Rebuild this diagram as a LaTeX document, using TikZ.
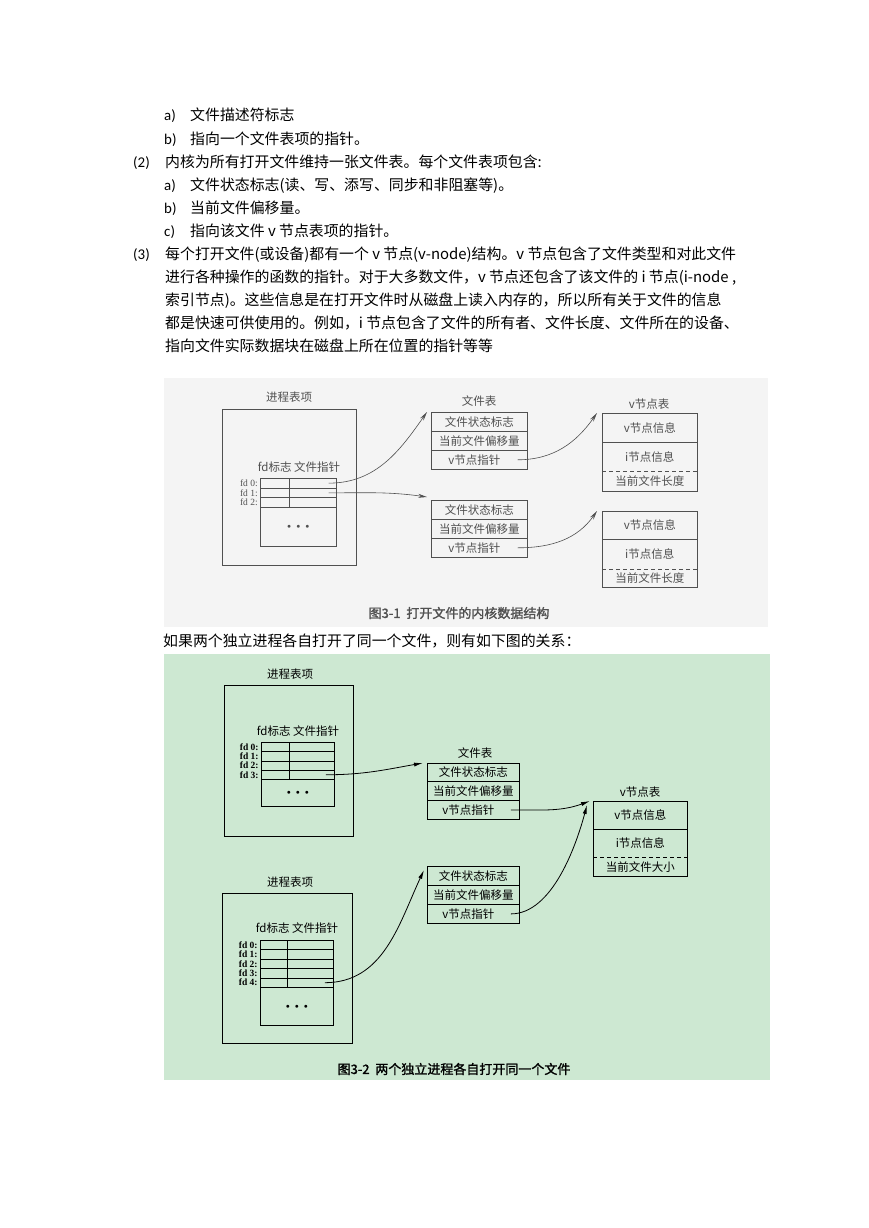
\documentclass[tikz,border=0pt]{standalone}
\usepackage{fontspec}
\setmainfont{Carlito}
\newfontfamily\cjk{Noto Sans CJK SC}
\newfontfamily\cjkbold[FakeBold=1.5]{Noto Sans CJK SC}
\newfontfamily\figserif{Liberation Serif}
\usepackage{tikz}
\usetikzlibrary{arrows.meta}

\definecolor{figgray}{RGB}{244,244,244}
\definecolor{figgreen}{RGB}{205,232,210}
\definecolor{scanink}{RGB}{80,80,80}

\begin{document}
\begin{tikzpicture}[x=1pt, y=-1pt,
  body/.style={anchor=base west, inner sep=0pt, font=\fontsize{14.9pt}{17pt}\selectfont\cjk},
  num/.style={anchor=base west, inner sep=0pt, font=\fontsize{14.9pt}{17pt}\selectfont},
  lbl/.style={inner sep=0pt, font=\fontsize{11.5pt}{13pt}\selectfont\cjk},
  figcap/.style={inner sep=0pt, font=\fontsize{13pt}{15pt}\selectfont\cjkbold},
  fdlbl/.style={anchor=east, inner sep=0pt, font=\fontsize{9.5pt}{9.5pt}\selectfont\figserif},
  fdlblb/.style={fdlbl, font=\fontsize{9.5pt}{9.5pt}\selectfont\figserif\bfseries},
  dots/.style={inner sep=0pt, font=\fontsize{7pt}{7pt}\selectfont},
  procbox/.style={draw, anchor=north west, inner sep=0pt},
  fdrow/.style={draw, anchor=north west, inner sep=0pt, minimum width=76pt, minimum height=9.7pt},
  ftrow/.style={lbl, draw, anchor=north west, minimum width=96pt, minimum height=19pt},
  vrow/.style={lbl, anchor=north west, minimum width=95pt},
  ptr/.style={-{Stealth[length=9pt, width=4pt]}},
  ptrb/.style={-{Latex[length=9pt, width=4pt]}}
]

% Page
\fill[white] (0,0) rectangle (869,1228);
\useasboundingbox (0,0) rectangle (869,1228);

% Text above the figures
\node[num] (n1a) at (164,121) {a)};
\node[body] (t1a) at (190,121) {文件描述符标志};
\node[num] (n1b) at (164,144) {b)};
\node[body] (t1b) at (190,144) {指向一个文件表项的指针。};
\node[num] (n2) at (133,167) {(2)};
\node[body] (t2) at (165,167) {内核为所有打开文件维持一张文件表。每个文件表项包含:};
\node[num] (n2a) at (164,190) {a)};
\node[body] (t2a) at (190,190) {文件状态标志(读、写、添写、同步和非阻塞等)。};
\node[num] (n2b) at (164,213) {b)};
\node[body] (t2b) at (190,213) {当前文件偏移量。};
\node[num] (n2c) at (164,236) {c)};
\node[body] (t2c) at (190,236) {指向该文件 v 节点表项的指针。};
\node[num] (n3) at (133,259) {(3)};
\node[body] (t3a) at (165,259) {每个打开文件(或设备)都有一个 v 节点(v-node)结构。v 节点包含了文件类型和对此文件};
\node[body] (t3b) at (165,282) {进行各种操作的函数的指针。对于大多数文件，v 节点还包含了该文件的 i 节点(i-node ,};
\node[body] (t3c) at (165,305) {索引节点)。这些信息是在打开文件时从磁盘上读入内存的，所以所有关于文件的信息};
\node[body] (t3d) at (165,328) {都是快速可供使用的。例如，i 节点包含了文件的所有者、文件长度、文件所在的设备、};
\node[body] (t3e) at (165,351) {指向文件实际数据块在磁盘上所在位置的指针等等};
\node[body] (t4) at (163,646) {如果两个独立进程各自打开了同一个文件，则有如下图的关系：};

% ---------------- Figure 3-1 ----------------
\fill[figgray] (164,378) rectangle (768,627);
\begin{scope}[color=scanink, line width=0.6pt]

% Process table entry
\node[lbl] (p1t) at (289,397) {进程表项};
\node[procbox, minimum width=134pt, minimum height=156pt] (p1) at (222,409) {};
\node[lbl] (p1h) at (299,467) {fd标志\ 文件指针};
\node[fdrow] (p1r0) at (260,478) {};
\node[fdrow] (p1r1) at (260,487.7) {};
\node[fdrow] (p1r2) at (260,497.4) {};
\node[fdrow, minimum height=39pt] (p1r3) at (260,507.1) {};
\draw ([xshift=29pt]p1r0.north west) -- ([xshift=29pt]p1r2.south west);
\node[fdlbl] (p1l0) at ([xshift=-2pt]p1r0.west) {fd 0:};
\node[fdlbl] (p1l1) at ([xshift=-2pt]p1r1.west) {fd 1:};
\node[fdlbl] (p1l2) at ([xshift=-2pt]p1r2.west) {fd 2:};
\node[dots] (p1d) at (p1r3.center) {$\bullet$\hspace{5pt}$\bullet$\hspace{5pt}$\bullet$};

% File tables
\node[lbl] (ft1t) at (479,401) {文件表};
\node[ftrow] (ft1s) at (431,412) {文件状态标志};
\node[ftrow] (ft1o) at (431,431) {当前文件偏移量};
\node[ftrow] (ft1v) at (431,450) {v节点指针\hspace*{10pt}};
\node[ftrow] (ft2s) at (431,500) {文件状态标志};
\node[ftrow] (ft2o) at (431,519) {当前文件偏移量};
\node[ftrow] (ft2v) at (431,538) {v节点指针\hspace*{10pt}};

% v-node tables
\node[lbl] (vt1t) at (649,404) {v节点表};
\node[vrow, minimum height=29pt] (vt1a) at (602,413) {v节点信息};
\node[vrow, minimum height=29pt] (vt1b) at (602,442) {i节点信息};
\node[vrow, minimum height=20pt] (vt1c) at (602,471) {当前文件长度};
\draw (vt1a.north west) rectangle (vt1c.south east);
\draw (vt1a.south west) -- (vt1a.south east);
\draw[dash pattern=on 4pt off 3pt] (vt1b.south west) -- (vt1b.south east);

\node[vrow, minimum height=28pt] (vt2a) at (602,511) {v节点信息};
\node[vrow, minimum height=30pt] (vt2b) at (602,539) {i节点信息};
\node[vrow, minimum height=18pt] (vt2c) at (602,569) {当前文件长度};
\draw (vt2a.north west) rectangle (vt2c.south east);
\draw (vt2a.south west) -- (vt2a.south east);
\draw[dash pattern=on 4pt off 3pt] (vt2b.south west) -- (vt2b.south east);

% Pointers
\coordinate (p1s0) at ([xshift=-8pt]p1r0.east);
\coordinate (p1s1) at ([xshift=-8pt]p1r1.east);
\coordinate (ft1p) at ([xshift=-10pt]ft1v.east);
\coordinate (ft2p) at ([xshift=-10pt]ft2v.east);
\draw[ptr] (p1s0) to[out=0, in=235] ([xshift=-4pt]ft1s.north west);
\draw[ptr] (p1s1) to[out=0, in=172] ([xshift=-4pt, yshift=3pt]ft2s.north west);
\draw[ptr] (ft1p) to[out=0, in=235] ([xshift=-5pt]vt1a.north west);
\draw[ptr] (ft2p) to[out=0, in=235] ([xshift=-5pt]vt2a.north west);

\node[figcap] (cap1) at (459,613) {图3-1\ \ 打开文件的内核数据结构};
\end{scope}

% ---------------- Figure 3-2 ----------------
\fill[figgreen] (164,654) rectangle (770,1080);
\begin{scope}[line width=0.8pt]

% First process
\node[lbl] (p2t) at (290,674) {进程表项};
\node[procbox, minimum width=129pt, minimum height=151pt] (p2) at (224,685) {};
\node[lbl] (p2h) at (298,731) {fd标志\ 文件指针};
\node[fdrow, minimum width=73pt, minimum height=9.25pt] (p2r0) at (261,742) {};
\node[fdrow, minimum width=73pt, minimum height=9.25pt] (p2r1) at (261,751.25) {};
\node[fdrow, minimum width=73pt, minimum height=9.25pt] (p2r2) at (261,760.5) {};
\node[fdrow, minimum width=73pt, minimum height=9.25pt] (p2r3) at (261,769.75) {};
\node[fdrow, minimum width=73pt, minimum height=27pt] (p2r4) at (261,779) {};
\draw ([xshift=28pt]p2r0.north west) -- ([xshift=28pt]p2r3.south west);
\node[fdlblb] (p2l0) at ([xshift=-2pt]p2r0.west) {fd 0:};
\node[fdlblb] (p2l1) at ([xshift=-2pt]p2r1.west) {fd 1:};
\node[fdlblb] (p2l2) at ([xshift=-2pt]p2r2.west) {fd 2:};
\node[fdlblb] (p2l3) at ([xshift=-2pt]p2r3.west) {fd 3:};
\node[dots] (p2d) at (p2r4.center) {$\bullet$\hspace{5pt}$\bullet$\hspace{5pt}$\bullet$};

% Second process
\node[lbl] (p3t) at (290,882) {进程表项};
\node[procbox, minimum width=130pt, minimum height=150pt] (p3) at (222,893) {};
\node[lbl] (p3h) at (297,928) {fd标志\ 文件指针};
\node[fdrow, minimum width=73pt, minimum height=9.4pt] (p3r0) at (260,940) {};
\node[fdrow, minimum width=73pt, minimum height=9.4pt] (p3r1) at (260,949.4) {};
\node[fdrow, minimum width=73pt, minimum height=9.4pt] (p3r2) at (260,958.8) {};
\node[fdrow, minimum width=73pt, minimum height=9.4pt] (p3r3) at (260,968.2) {};
\node[fdrow, minimum width=73pt, minimum height=9.4pt] (p3r4) at (260,977.6) {};
\node[fdrow, minimum width=73pt, minimum height=38pt] (p3r5) at (260,987) {};
\draw ([xshift=27pt]p3r0.north west) -- ([xshift=27pt]p3r4.south west);
\node[fdlblb] (p3l0) at ([xshift=-2pt]p3r0.west) {fd 0:};
\node[fdlblb] (p3l1) at ([xshift=-2pt]p3r1.west) {fd 1:};
\node[fdlblb] (p3l2) at ([xshift=-2pt]p3r2.west) {fd 2:};
\node[fdlblb] (p3l3) at ([xshift=-2pt]p3r3.west) {fd 3:};
\node[fdlblb] (p3l4) at ([xshift=-2pt]p3r4.west) {fd 4:};
\node[dots] (p3d) at (p3r5.center) {$\bullet$\hspace{5pt}$\bullet$\hspace{5pt}$\bullet$};

% File tables
\node[lbl] (ftAt) at (475,753) {文件表};
\node[ftrow, minimum width=92pt, minimum height=18pt] (ftAs) at (427,763) {文件状态标志};
\node[ftrow, minimum width=92pt] (ftAo) at (427,781) {当前文件偏移量};
\node[ftrow, minimum width=92pt] (ftAv) at (427,800) {v节点指针\hspace*{10pt}};
\node[ftrow, minimum width=92pt] (ftBs) at (427,866) {文件状态标志};
\node[ftrow, minimum width=92pt] (ftBo) at (427,885) {当前文件偏移量};
\node[ftrow, minimum width=92pt] (ftBv) at (427,904) {v节点指针\hspace*{10pt}};

% Shared v-node table
\node[lbl] (vt3t) at (640,792) {v节点表};
\node[vrow, minimum width=94pt, minimum height=28pt] (vt3a) at (593,801) {v节点信息};
\node[vrow, minimum width=94pt, minimum height=28pt] (vt3b) at (593,829) {i节点信息};
\node[vrow, minimum width=94pt, minimum height=19pt] (vt3c) at (593,857) {当前文件大小};
\draw (vt3a.north west) rectangle (vt3c.south east);
\draw (vt3a.south west) -- (vt3a.south east);
\draw[dash pattern=on 4pt off 3pt] (vt3b.south west) -- (vt3b.south east);

% Pointers
\coordinate (p2s3) at ([xshift=-9pt]p2r3.east);
\coordinate (p3s4) at ([xshift=-9pt]p3r4.east);
\coordinate (ftAp) at ([xshift=-9pt]ftAv.east);
\coordinate (ftBp) at ([xshift=-9pt]ftBv.east);
\draw[ptrb] (p2s3) to[out=0, in=190] ([xshift=-4pt]ftAs.north west);
\draw[ptrb] (p3s4) to[out=0, in=245] ([xshift=-3pt, yshift=-4pt]ftBs.north west);
\draw[ptrb] (ftAp) to[out=0, in=200] ([xshift=-3pt]vt3a.north west);
\draw[ptrb] (ftBp) to[out=0, in=255, looseness=0.8] ([xshift=-6pt, yshift=-4pt]vt3a.north west);

\node[figcap] (cap2) at (454,1069) {图3-2\ \ 两个独立进程各自打开同一个文件};
\end{scope}

\end{tikzpicture}
\end{document}
